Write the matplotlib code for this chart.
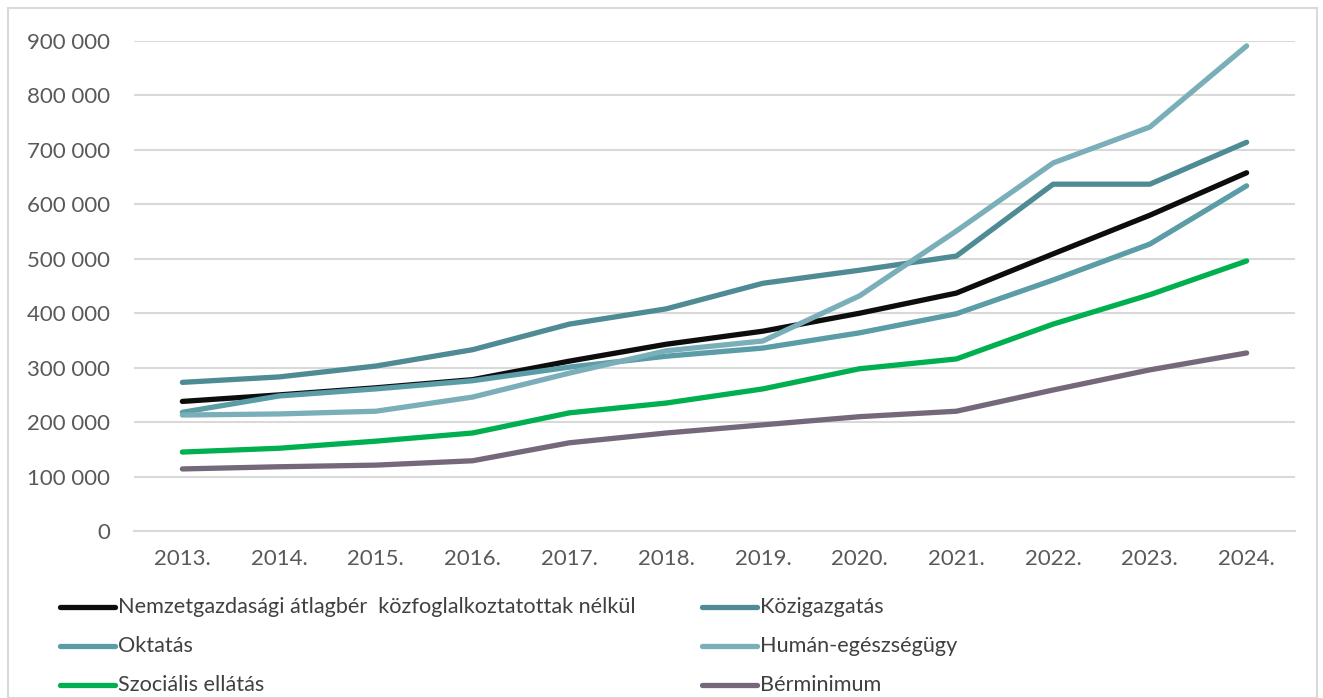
import matplotlib
matplotlib.use("Agg")
import matplotlib.pyplot as plt
from matplotlib.lines import Line2D
from matplotlib.patches import Rectangle
from matplotlib.ticker import FuncFormatter, MultipleLocator

years = ["2013.", "2014.", "2015.", "2016.", "2017.", "2018.",
         "2019.", "2020.", "2021.", "2022.", "2023.", "2024."]

atlagber = [238000, 250000, 263000, 278000, 312000, 343000,
            367000, 400000, 437000, 509000, 580000, 658000]
kozigazgatas = [273000, 283000, 303000, 333000, 380000, 408000,
                455000, 479000, 505000, 637000, 637000, 714000]
oktatas = [218000, 248000, 261000, 276000, 301000, 321000,
           336000, 364000, 399000, 461000, 527000, 634000]
human_eu = [213000, 215000, 220000, 246000, 290000, 331000,
            349000, 432000, 551000, 676000, 742000, 891000]
szocialis = [145000, 152000, 165000, 180000, 217000, 235000,
             261000, 298000, 316000, 380000, 434000, 496000]
berminimum = [114000, 118000, 121000, 129000, 162000, 180000,
              195000, 210000, 220000, 259000, 296000, 327000]

labels = ["Nemzetgazdasági átlagbér  közfoglalkoztatottak nélkül",
          "Közigazgatás", "Oktatás", "Humán-egészségügy",
          "Szociális ellátás", "Bérminimum"]
series = [atlagber, kozigazgatas, oktatas, human_eu, szocialis, berminimum]
colors = ["#0d0d0d", "#4e8b94", "#5a9da7", "#7aafb9", "#00b050", "#75687a"]

plt.rcParams["font.family"] = ["Lato", "DejaVu Sans"]

fig = plt.figure(figsize=(13.23, 6.98), dpi=100)
ax = fig.add_axes([134 / 1323, 1 - 531 / 698, (1295 - 134) / 1323, 490 / 698])

x = range(len(years))
for vals, c in zip(series, colors):
    ax.plot(x, vals, color=c, linewidth=3.8, solid_capstyle="round",
            solid_joinstyle="round")

ax.set_xlim(-0.5, len(years) - 0.5)
ax.set_ylim(0, 900000)
ax.set_xticks(list(x))
ax.set_xticklabels(years)
ax.yaxis.set_major_locator(MultipleLocator(100000))
ax.yaxis.set_major_formatter(
    FuncFormatter(lambda v, p: f"{int(v):,}".replace(",", " ")))
ax.grid(axis="y", color="#d9d9d9", linewidth=1.5)
ax.set_axisbelow(True)
for s in ["top", "right", "left"]:
    ax.spines[s].set_visible(False)
ax.spines["bottom"].set_color("#d9d9d9")
ax.spines["bottom"].set_linewidth(1.5)
ax.tick_params(length=0, labelsize=16, colors="#595959", pad=13)
ax.tick_params(axis="y", pad=17)

# legend, two columns, three rows
rows_y = [607, 646, 685]
cols_x = [60, 702]
for i, (lab, c) in enumerate(zip(labels, colors)):
    cx = cols_x[i % 2]
    ry = 1 - rows_y[i // 2] / 698
    fig.add_artist(Line2D([cx / 1323, (cx + 55) / 1323], [ry, ry], color=c,
                          linewidth=3.8, solid_capstyle="round"))
    fig.text((cx + 58) / 1323, ry, lab, fontsize=15.6, color="#404040",
             va="center", ha="left")

fig.add_artist(Rectangle((8 / 1323, 0), 1 - 14 / 1323, 1 - 8 / 698,
                         fill=False, edgecolor="#d9d9d9", linewidth=1.5,
                         transform=fig.transFigure))

fig.savefig("out.png", dpi=100)
